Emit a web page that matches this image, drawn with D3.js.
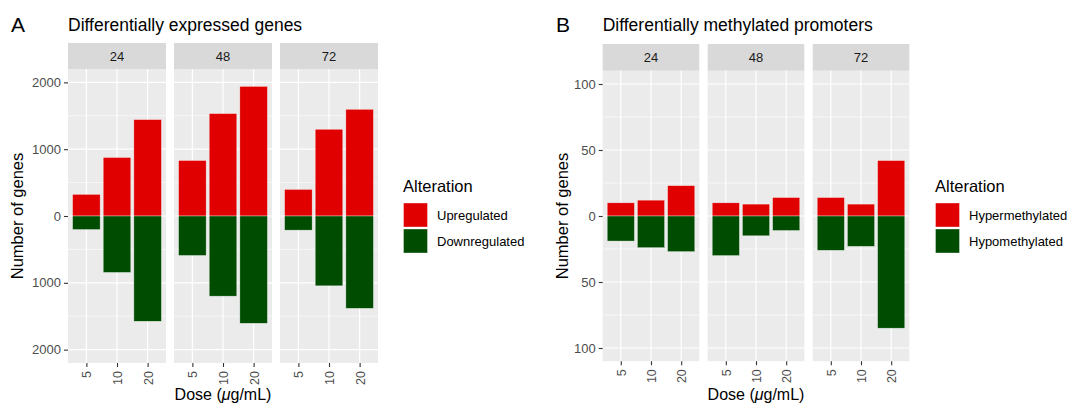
<!DOCTYPE html>
<html>
<head>
<meta charset="utf-8">
<script src="https://cdn.jsdelivr.net/npm/d3@7"></script>
<style>
  body { margin: 0; background: #fff; }
  svg { font-family: "Liberation Sans", Arial, Helvetica, sans-serif; }
</style>
</head>
<body>
<svg width="1070" height="404"></svg>
<script>
// shared categories
let times = ["24", "48", "72"];
let doses = ["5", "10", "20"];

// panel A: differentially expressed genes (per time, per dose)
let upregulated = [
  [324, 876, 1443],
  [831, 1533, 1940],
  [398, 1298, 1597]
];
let downregulated = [
  [203, 845, 1576],
  [591, 1200, 1606],
  [212, 1045, 1382]
];
let ticksA = [2000, 1000, 0, -1000, -2000];

// panel B: differentially methylated promoters
let hypermethylated = [
  [10, 12, 23],
  [10, 9, 14],
  [14, 9, 42]
];
let hypomethylated = [
  [19, 24, 27],
  [30, 15, 11],
  [26, 23, 85]
];
let ticksB = [100, 50, 0, -50, -100];

let upColor = "#e00000";
let downColor = "#004c00";

let svg = d3.select("svg");

function drawChart(opts) {
  let g = svg.append("g");

  // tag letter + title
  g.append("text")
    .attr("x", opts.letterX)
    .attr("y", 32)
    .attr("font-size", 21)
    .attr("fill", "#000")
    .text(opts.letter);
  g.append("text")
    .attr("x", opts.panelX[0])
    .attr("y", 31)
    .attr("font-size", 17.5)
    .attr("fill", "#000")
    .text(opts.title);

  let y = d3
    .scaleLinear()
    .domain([-opts.limit * 1.1, opts.limit * 1.1])
    .range([opts.bottom, opts.top]);

  times.forEach((t, i) => {
    let x0 = opts.panelX[i];
    let x = d3
      .scalePoint()
      .domain(doses)
      .range([x0, x0 + opts.panelW])
      .padding(0.6);
    let bw = x.step() * 0.9;

    let p = g.append("g");

    // strip
    p.append("rect")
      .attr("x", x0)
      .attr("y", opts.stripTop)
      .attr("width", opts.panelW)
      .attr("height", opts.top - opts.stripTop)
      .attr("fill", "#d9d9d9");
    p.append("text")
      .attr("x", x0 + opts.panelW / 2)
      .attr("y", (opts.stripTop + opts.top) / 2 + 4.5)
      .attr("text-anchor", "middle")
      .attr("font-size", 13)
      .attr("fill", "#1a1a1a")
      .text(t);

    // background
    p.append("rect")
      .attr("x", x0)
      .attr("y", opts.top)
      .attr("width", opts.panelW)
      .attr("height", opts.bottom - opts.top)
      .attr("fill", "#ebebeb");

    // minor gridlines
    let minor = opts.ticks.slice(1).map((v, k) => (v + opts.ticks[k]) / 2);
    p.selectAll(".minor")
      .data(minor)
      .enter()
      .append("line")
      .attr("x1", x0)
      .attr("x2", x0 + opts.panelW)
      .attr("y1", d => y(d))
      .attr("y2", d => y(d))
      .attr("stroke", "#fff")
      .attr("stroke-width", 0.6);
    // major gridlines
    p.selectAll(".major")
      .data(opts.ticks)
      .enter()
      .append("line")
      .attr("x1", x0)
      .attr("x2", x0 + opts.panelW)
      .attr("y1", d => y(d))
      .attr("y2", d => y(d))
      .attr("stroke", "#fff")
      .attr("stroke-width", 1.2);
    p.selectAll(".vgrid")
      .data(doses)
      .enter()
      .append("line")
      .attr("x1", d => x(d))
      .attr("x2", d => x(d))
      .attr("y1", opts.top)
      .attr("y2", opts.bottom)
      .attr("stroke", "#fff")
      .attr("stroke-width", 1.2);

    // bars
    p.selectAll(".up")
      .data(opts.up[i])
      .enter()
      .append("rect")
      .attr("x", (d, k) => x(doses[k]) - bw / 2)
      .attr("y", d => y(d))
      .attr("width", bw)
      .attr("height", d => y(0) - y(d))
      .attr("fill", upColor)
      .attr("stroke", "#fff")
      .attr("stroke-opacity", 0.6)
      .attr("stroke-width", 0.6);
    p.selectAll(".down")
      .data(opts.down[i])
      .enter()
      .append("rect")
      .attr("x", (d, k) => x(doses[k]) - bw / 2)
      .attr("y", y(0))
      .attr("width", bw)
      .attr("height", d => y(-d) - y(0))
      .attr("fill", downColor)
      .attr("stroke", "#fff")
      .attr("stroke-opacity", 0.6)
      .attr("stroke-width", 0.6);

    // x axis
    let xa = p
      .append("g")
      .attr("transform", `translate(0,${opts.bottom})`)
      .call(d3.axisBottom(x).tickSize(4).tickPadding(2));
    xa.select(".domain").remove();
    xa.selectAll(".tick line").attr("stroke", "#333").attr("stroke-width", 1.1);
    xa.selectAll(".tick text")
      .attr("transform", "rotate(-90)")
      .attr("x", -8)
      .attr("y", 0)
      .attr("dy", "0.35em")
      .attr("text-anchor", "end")
      .attr("font-size", 12.5)
      .attr("font-family", "Liberation Sans, Arial, sans-serif")
      .attr("fill", "#4d4d4d");
  });

  // y axis
  let ya = g
    .append("g")
    .attr("transform", `translate(${opts.panelX[0]},0)`)
    .call(
      d3
        .axisLeft(y)
        .tickValues(opts.ticks)
        .tickFormat(d => Math.abs(d))
        .tickSize(4)
        .tickPadding(3)
    );
  ya.select(".domain").remove();
  ya.selectAll(".tick line").attr("stroke", "#333").attr("stroke-width", 1.1);
  ya.selectAll(".tick text")
    .attr("font-size", 13)
    .attr("font-family", "Liberation Sans, Arial, sans-serif")
    .attr("fill", "#4d4d4d");

  // axis titles
  g.append("text")
    .attr("transform", `translate(${opts.yTitleX},${(opts.top + opts.bottom) / 2}) rotate(-90)`)
    .attr("text-anchor", "middle")
    .attr("font-size", 16.5)
    .attr("fill", "#000")
    .text("Number of genes");
  let xt = g
    .append("text")
    .attr("x", (opts.panelX[0] + opts.panelX[2] + opts.panelW) / 2)
    .attr("y", 400)
    .attr("text-anchor", "middle")
    .attr("font-size", 16)
    .attr("fill", "#000");
  xt.append("tspan").text("Dose (");
  xt.append("tspan").attr("font-style", "italic").text("μ");
  xt.append("tspan").text("g/mL)");

  // legend
  let lg = g.append("g").attr("transform", `translate(${opts.legendX},0)`);
  lg.append("text")
    .attr("x", 0)
    .attr("y", 192)
    .attr("font-size", 16.5)
    .attr("fill", "#000")
    .text("Alteration");
  opts.labels.forEach((l, k) => {
    lg.append("rect")
      .attr("x", 0.5)
      .attr("y", 203 + k * 26)
      .attr("width", 24)
      .attr("height", 24)
      .attr("fill", k === 0 ? upColor : downColor)
      .attr("stroke", "#fff")
      .attr("stroke-opacity", 0.6)
      .attr("stroke-width", 0.6);
    lg.append("text")
      .attr("x", 34)
      .attr("y", 215 + k * 26)
      .attr("dy", "0.35em")
      .attr("font-size", 13)
      .attr("fill", "#000")
      .text(l);
  });
}

drawChart({
  letter: "A",
  letterX: 11,
  title: "Differentially expressed genes",
  panelX: [68, 174, 280],
  panelW: 98,
  stripTop: 43,
  top: 69,
  bottom: 363,
  limit: 2000,
  ticks: ticksA,
  up: upregulated,
  down: downregulated,
  yTitleX: 23,
  legendX: 403,
  labels: ["Upregulated", "Downregulated"]
});

drawChart({
  letter: "B",
  letterX: 556,
  title: "Differentially methylated promoters",
  panelX: [602.7, 707.7, 812.7],
  panelW: 96.6,
  stripTop: 44,
  top: 70.8,
  bottom: 361.2,
  limit: 100,
  ticks: ticksB,
  up: hypermethylated,
  down: hypomethylated,
  yTitleX: 568,
  legendX: 935,
  labels: ["Hypermethylated", "Hypomethylated"]
});
</script>
</body>
</html>
